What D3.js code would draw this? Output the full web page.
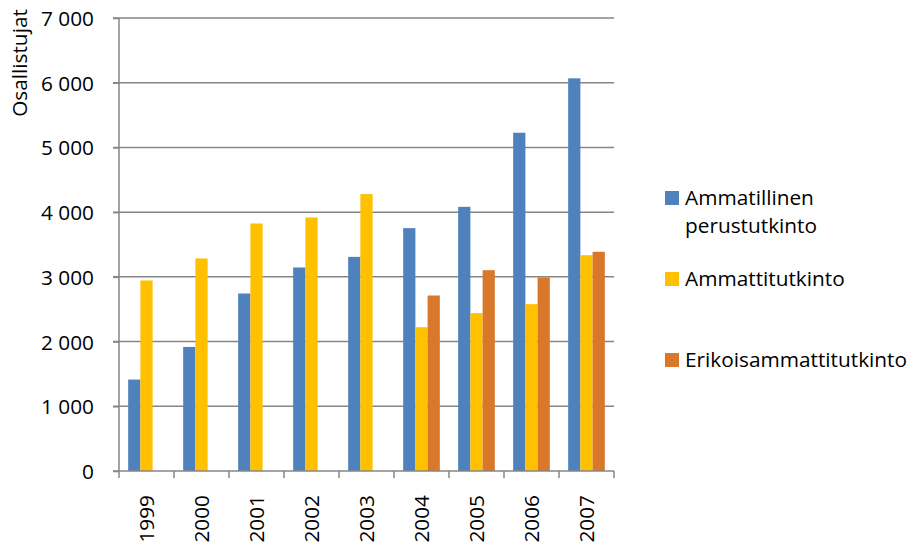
<!DOCTYPE html>
<html>
<head>
<meta charset="utf-8">
<script src="https://cdn.jsdelivr.net/npm/d3@7"></script>
<style>
  body { margin: 0; background: #fff; }
  svg { display: block; font-family: "Open Sans", sans-serif; }
</style>
</head>
<body>
<div id="chart"></div>
<script>
const years = ["1999", "2000", "2001", "2002", "2003", "2004", "2005", "2006", "2007"];
const seriesNames = ["Ammatillinen perustutkinto", "Ammattitutkinto", "Erikoisammattitutkinto"];
const perustutkinto = [1413, 1917, 2743, 3145, 3309, 3753, 4082, 5227, 6068];
const ammattitutkinto = [2944, 3284, 3825, 3918, 4279, 2222, 2439, 2578, 3335];
const erikoisammatti = [null, null, null, null, null, 2712, 3103, 2990, 3387];
const yTicks = [0, 1000, 2000, 3000, 4000, 5000, 6000, 7000];
const colors = ["#4F81BD", "#FFC000", "#D9782B"];

const W = 909, H = 544;
const margin = {left: 119, right: 295, top: 18, bottom: 73};
const fs = 20.8;

const svg = d3.select("#chart").append("svg")
    .attr("width", W)
    .attr("height", H);

const x0 = d3.scaleBand()
    .domain(years)
    .range([margin.left, W - margin.right]);

// gap width 150%: 3 bars + 1.5 bar gap
const barW = x0.bandwidth() / 4.5;
const x1 = d3.scaleBand()
    .domain(d3.range(3))
    .range([barW * 0.75, barW * 3.75]);

const y = d3.scaleLinear()
    .domain([0, 7000])
    .range([H - margin.bottom, margin.top]);

const fmt = d => d3.format(",")(d).replace(",", " ");

// gridlines
svg.append("g")
    .selectAll("line")
    .data(yTicks.filter(d => d > 0))
    .join("line")
    .attr("x1", margin.left - 6)
    .attr("x2", W - margin.right)
    .attr("y1", d => y(d))
    .attr("y2", d => y(d))
    .attr("stroke", "#868686")
    .attr("stroke-width", 1.5);

// y axis
const yAxis = svg.append("g")
    .attr("transform", `translate(${margin.left},0)`)
    .call(d3.axisLeft(y).tickValues(yTicks).tickFormat(fmt).tickSize(6).tickPadding(19));
yAxis.select(".domain").attr("stroke", "#868686").attr("stroke-width", 1.5).attr("d", `M-0,${y(7000)}V${y(0)}`);
yAxis.selectAll(".tick line").attr("stroke", "#868686").attr("stroke-width", 1.5);
yAxis.selectAll(".tick text")
    .attr("font-family", "Open Sans, sans-serif")
    .attr("font-size", fs)
    .attr("fill", "#000")
    .attr("dy", "0.36em");

// bars
const series = [perustutkinto, ammattitutkinto, erikoisammatti];
const groups = svg.append("g")
    .selectAll("g")
    .data(years)
    .join("g")
    .attr("transform", d => `translate(${x0(d)},0)`);

groups.selectAll("rect")
    .data((yr, i) => series.map((s, k) => ({k, v: s[i]})).filter(d => d.v != null))
    .join("rect")
    .attr("x", d => x1(d.k))
    .attr("width", x1.bandwidth())
    .attr("y", d => y(d.v))
    .attr("height", d => y(0) - y(d.v))
    .attr("fill", d => colors[d.k]);

// x axis
const xAxis = svg.append("g")
    .attr("transform", `translate(0,${y(0)})`);
xAxis.append("line")
    .attr("x1", margin.left - 6)
    .attr("x2", W - margin.right)
    .attr("stroke", "#868686")
    .attr("stroke-width", 1.5);
xAxis.selectAll(".sep")
    .data(d3.range(years.length + 1))
    .join("line")
    .attr("x1", i => margin.left + i * x0.step())
    .attr("x2", i => margin.left + i * x0.step())
    .attr("y1", 0)
    .attr("y2", 7)
    .attr("stroke", "#868686")
    .attr("stroke-width", 1.5);
xAxis.selectAll("text")
    .data(years)
    .join("text")
    .attr("transform", d => `translate(${x0(d) + x0.bandwidth() / 2 + 7},24) rotate(-90)`)
    .attr("text-anchor", "end")
    .attr("font-size", fs)
    .text(d => d);

// y title
svg.append("text")
    .attr("transform", "translate(27,63) rotate(-90)")
    .attr("text-anchor", "middle")
    .attr("font-size", fs)
    .text("Osallistujat");

// legend
const legendItems = [
    {lines: ["Ammatillinen", "perustutkinto"], y: 205},
    {lines: ["Ammattitutkinto"], y: 286},
    {lines: ["Erikoisammattitutkinto"], y: 367}
];
const legend = svg.append("g");
legendItems.forEach((item, i) => {
    legend.append("rect")
        .attr("x", 665)
        .attr("y", item.y - 14)
        .attr("width", 14)
        .attr("height", 14)
        .attr("fill", colors[i]);
    const t = legend.append("text")
        .attr("x", 685)
        .attr("y", item.y)
        .attr("font-size", fs);
    item.lines.forEach((ln, j) => {
        t.append("tspan").attr("x", 685).attr("dy", j === 0 ? 0 : 28).text(ln);
    });
});
</script>
</body>
</html>
